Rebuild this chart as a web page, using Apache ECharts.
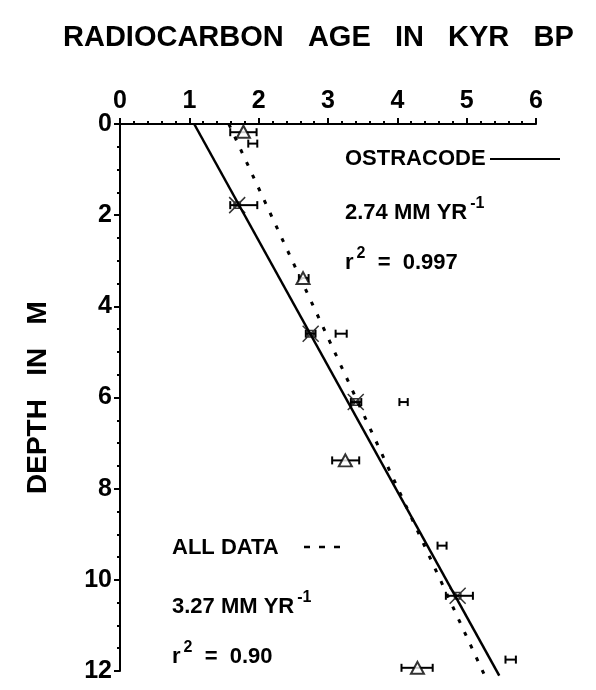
<!DOCTYPE html>
<html>
<head>
<meta charset="utf-8">
<script src="https://cdn.jsdelivr.net/npm/echarts@6/dist/echarts.min.js"></script>
<style>
  html, body { margin: 0; padding: 0; background: #fff; }
  #chart { width: 596px; height: 690px; }
</style>
</head>
<body>
<div id="chart"></div>
<script>
// age (kyr BP), depth (m)
const triangles = [[1.78, 0.17], [2.64, 3.38], [3.25, 7.38], [4.29, 11.93]]
const ostracodes = [[1.69, 1.78], [2.75, 4.6], [3.40, 6.1], [4.87, 10.35]]
// [low age, high age, depth]
const errorBars = [
  [1.59, 1.97, 0.18], [1.85, 1.98, 0.43], [1.59, 1.98, 1.78],
  [2.58, 2.72, 3.38], [2.68, 2.82, 4.6], [3.11, 3.27, 4.6],
  [3.33, 3.48, 6.1], [4.03, 4.15, 6.1], [3.06, 3.45, 7.38],
  [4.58, 4.71, 9.25], [4.70, 5.09, 10.35], [5.56, 5.71, 11.75],
  [4.06, 4.51, 11.93]
]
// regression lines, end points
const ostracodeFit = [[1.07, 0], [5.47, 12.1]]
const allDataFit = [[1.57, 0], [5.26, 12.1]]
const xTicks = [0, 1, 2, 3, 4, 5, 6]
const yTicks = [0, 2, 4, 6, 8, 10, 12]

const font = '"Liberation Sans", Arial, sans-serif'
const chart = echarts.init(document.getElementById('chart'))

const labelStyle = { fontFamily: font, fontWeight: 'bold', fontSize: 25, color: '#000' }

// annotation text block with optional superscript
const annot = (x, y, text) => ({
  type: 'text', left: x, top: y,
  style: {
    text: text,
    font: 'bold 22px ' + font,
    fill: '#000',
    rich: {
      sup: { fontFamily: font, fontWeight: 'bold', fontSize: 16, verticalAlign: 'top', padding: [0, 0, 18, 3] },
    },
  },
})

const option = {
  animation: false,
  backgroundColor: '#fff',
  grid: { left: 120, right: 60, top: 124, bottom: 19 },
  xAxis: {
    type: 'value', position: 'top', min: xTicks[0], max: xTicks[xTicks.length - 1], interval: 1,
    axisLine: { lineStyle: { color: '#000', width: 2 } },
    axisTick: { show: true, inside: false, length: 6, lineStyle: { color: '#000', width: 2 } },
    minorTick: { show: true, splitNumber: 5, length: 3, lineStyle: { color: '#000', width: 2 } },
    axisLabel: Object.assign({ margin: 10 }, labelStyle),
    splitLine: { show: false },
  },
  yAxis: {
    type: 'value', inverse: true, min: yTicks[0], max: yTicks[yTicks.length - 1], interval: 2,
    name: 'DEPTH   IN   M', nameLocation: 'middle', nameGap: 68, nameRotate: 90,
    nameTextStyle: { fontFamily: font, fontWeight: 'bold', fontSize: 28, color: '#000' },
    axisLine: { lineStyle: { color: '#000', width: 2 } },
    axisTick: { show: true, length: 6, lineStyle: { color: '#000', width: 2 } },
    minorTick: { show: true, splitNumber: 4, length: 3, lineStyle: { color: '#000', width: 2 } },
    axisLabel: Object.assign({ margin: 8 }, labelStyle),
    splitLine: { show: false },
  },
  graphic: [
    {
      type: 'text', left: 63, top: 23,
      style: { text: 'RADIOCARBON   AGE   IN   KYR   BP', font: 'bold 29px ' + font, fill: '#000' },
    },
    annot(345, 148, 'OSTRACODE'),
    { type: 'line', shape: { x1: 490, y1: 159, x2: 560, y2: 159 }, style: { stroke: '#000', lineWidth: 2 } },
    annot(345, 196, '2.74 MM YR{sup|-1}'),
    annot(345, 246, 'r{sup|2}  =  0.997'),
    annot(172, 537, 'ALL DATA'),
    { type: 'line', shape: { x1: 304, y1: 547, x2: 345, y2: 547 }, style: { stroke: '#000', lineWidth: 2.5, lineDash: [6, 9] } },
    annot(172, 590, '3.27 MM YR{sup|-1}'),
    annot(172, 640, 'r{sup|2}  =  0.90'),
  ],
  series: [
    {
      name: 'ostracode fit', type: 'line', data: ostracodeFit, symbol: 'none', clip: false,
      lineStyle: { color: '#000', width: 2.5 },
    },
    {
      name: 'all data fit', type: 'line', data: allDataFit, symbol: 'none', clip: false,
      lineStyle: { color: '#000', width: 3, type: [4, 10] },
    },
    {
      name: 'error bars', type: 'custom', data: errorBars,
      renderItem: (params, api) => {
        const a = api.coord([api.value(0), api.value(2)])
        const b = api.coord([api.value(1), api.value(2)])
        const h = 4
        const st = { stroke: '#000', lineWidth: 2 }
        return {
          type: 'group',
          children: [
            { type: 'line', shape: { x1: a[0], y1: a[1], x2: b[0], y2: b[1] }, style: st },
            { type: 'line', shape: { x1: a[0], y1: a[1] - h, x2: a[0], y2: a[1] + h }, style: st },
            { type: 'line', shape: { x1: b[0], y1: b[1] - h, x2: b[0], y2: b[1] + h }, style: st },
          ],
        }
      },
      z: 3,
    },
    {
      name: 'triangles', type: 'scatter', data: triangles, symbol: 'triangle', symbolSize: [13, 12],
      itemStyle: { color: '#fff', borderColor: '#000', borderWidth: 2 }, z: 4,
    },
    {
      name: 'ostracodes', type: 'scatter', data: ostracodes,
      symbol: 'path://M0,0L10,10M10,0L0,10M3,3L7,3L7,7L3,7Z', symbolSize: 16,
      itemStyle: { color: 'rgba(0,0,0,0)', borderColor: '#000', borderWidth: 1.5 }, z: 4,
    },
  ],
}

chart.setOption(option)
</script>
</body>
</html>
